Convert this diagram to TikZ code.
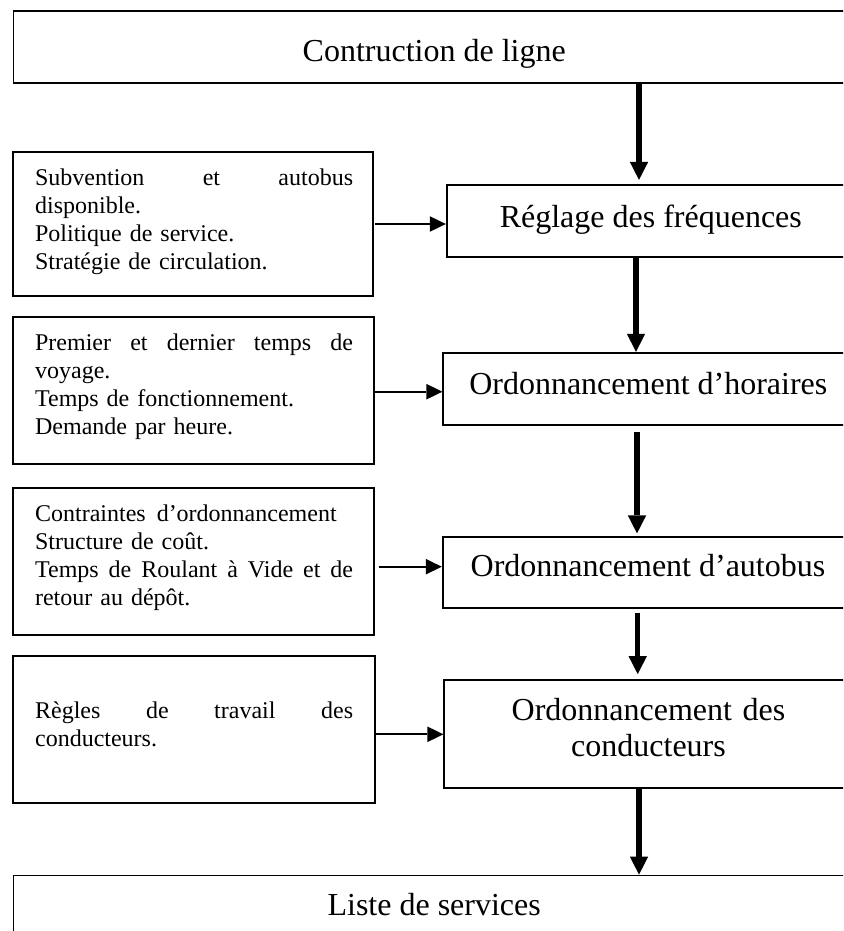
\documentclass[tikz,border=0pt]{standalone}
\usepackage{fontspec}
\setmainfont{Liberation Serif}
\usetikzlibrary{arrows.meta,fit}

\begin{document}
\begin{tikzpicture}[x=0.5pt,y=-0.5pt,
  frame/.style={draw, line width=0.9pt, inner sep=0pt},
  bigtext/.style={font=\fontsize{16}{18.35}\selectfont, inner sep=0pt, anchor=base},
  bigtwoline/.style={font=\fontsize{16}{18.35}\selectfont, inner sep=0pt, anchor=base,
    text width=200pt, align=center},
  smalltext/.style={font=\fontsize{12}{14.1}\selectfont, inner sep=0pt, anchor=base west,
    text width=159pt, align=left},
  mainflow/.style={line width=2.6pt, -{Triangle[length=9pt,width=9.2pt,line width=0pt]}},
  inputflow/.style={line width=1.1pt, -{Triangle[length=8pt,width=7.8pt,line width=0pt]}},
]
\useasboundingbox (0,0) rectangle (843,931);
\clip (0,0) rectangle (843,931);

% main chain of boxes
\node[frame, fit={(13.5,11) (855,83.3)}] (top) {};
\node[frame, fit={(446.7,185) (855,257.3)}] (r1) {};
\node[frame, fit={(443.3,352.7) (855,425)}] (r2) {};
\node[frame, fit={(442.7,536.7) (855,608)}] (r3) {};
\node[frame, fit={(444.3,680) (855,788.3)}] (r4) {};
\node[frame, fit={(13.4,875.5) (855,948)}] (bottom) {};

% input boxes on the left
\node[frame, fit={(13.3,152.3) (372.7,296)}] (l1) {};
\node[frame, fit={(13.3,317.3) (374.3,464)}] (l2) {};
\node[frame, fit={(13.3,488.3) (374.3,635)}] (l3) {};
\node[frame, fit={(13.3,656) (374.7,803.3)}] (l4) {};

% titles of the main steps
\node[bigtext] (top-t) at (434.2,61.5) {Contruction de ligne};
\node[bigtext] (r1-t) at (650.8,227.3) {Réglage des fréquences};
\node[bigtext] (r2-t) at (648.3,394) {Ordonnancement d’horaires};
\node[bigtext] (r3-t) at (648,576) {Ordonnancement d’autobus};
\node[bigtwoline] (r4-t) at (648.5,720) {Ordonnancement des\\conducteurs};
\node[bigtext] (bottom-t) at (434.2,915) {Liste de services};

% inputs
\node[smalltext] (l1-t) at (34.7,185) {Subvention\hfill et\hfill autobus\\
  disponible.\\Politique de service.\\Stratégie de circulation.};
\node[smalltext] (l2-t) at (34.7,350) {Premier\hfill et\hfill dernier\hfill temps\hfill de\\
  voyage.\\Temps de fonctionnement.\\Demande par heure.};
\node[smalltext] (l3-t) at (34.7,521) {Contraintes\hspace{5.5pt}d’ordonnancement\\
  Structure de coût.\\Temps\hfill de\hfill Roulant\hfill à\hfill Vide\hfill et\hfill de\\
  retour au dépôt.};
\node[smalltext] (l4-t) at (34.7,718.3) {Règles\hfill de\hfill travail\hfill des\\
  conducteurs.};

% vertical flow
\coordinate (v1) at (639,0);
\coordinate (v2) at (636,0);
\coordinate (v3) at (637,0);
\coordinate (v4) at (637.7,0);
\coordinate (v5) at (639,0);
\draw[mainflow, shorten >=2.1pt] (top.south -| v1) -- (r1.north -| v1);
\draw[mainflow] (r1.south -| v2) -- (r2.north -| v2);
\draw[mainflow, shorten <=3pt, shorten >=1.2pt] (r2.south -| v3) -- (r3.north -| v3);
\draw[mainflow, shorten <=1.8pt, shorten >=2.5pt] (r3.south -| v4) -- (r4.north -| v4);
\draw[mainflow] (r4.south -| v5) -- (bottom.north -| v5);

% inputs feeding each step
\coordinate (h1) at (0,224);
\coordinate (h2) at (0,391.7);
\coordinate (h3) at (0,566.7);
\coordinate (h4) at (0,734.3);
\draw[inputflow, shorten <=0.8pt] (l1.east |- h1) -- (r1.west |- h1);
\draw[inputflow] (l2.east |- h2) -- (r2.west |- h2);
\draw[inputflow, shorten <=1.7pt] (l3.east |- h3) -- (r3.west |- h3);
\draw[inputflow] (l4.east |- h4) -- (r4.west |- h4);
\end{tikzpicture}
\end{document}
